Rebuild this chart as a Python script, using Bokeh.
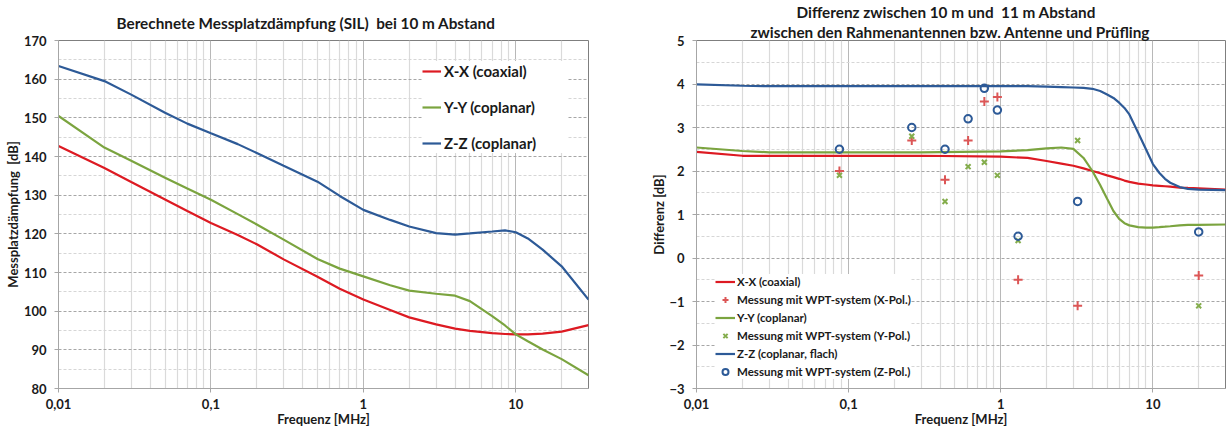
from bokeh.plotting import figure
from bokeh.layouts import row
from bokeh.models import (FixedTicker, Legend, LegendItem, Title,
                          CustomJSTickFormatter, Range1d)
from bokeh.embed import file_html
from bokeh.resources import INLINE

FONT = "Lato"
NB = "\u00a0"

# ---------------- left chart: Messplatzdämpfung (SIL) ----------------
freq_sil = [0.01, 0.02, 0.03, 0.05, 0.07, 0.1, 0.15, 0.2, 0.3, 0.5, 0.7, 1,
            1.5, 2, 3, 4, 5, 7, 8.5, 10, 12, 15, 20, 30]
sil_xx = [142.7, 137.0, 133.4, 128.9, 125.9, 122.8, 119.7, 117.3, 113.4, 108.9,
          105.8, 103.0, 100.3, 98.4, 96.6, 95.5, 94.9, 94.3, 94.1, 94.0, 94.0,
          94.2, 94.7, 96.4]
sil_yy = [150.5, 142.3, 138.9, 134.5, 131.7, 128.8, 125.1, 122.4, 118.5, 113.5,
          111.0, 109.0, 106.7, 105.3, 104.5, 104.0, 102.6, 98.7, 96.3, 94.0,
          92.2, 90.1, 87.6, 83.4]
sil_zz = [163.4, 159.5, 156.0, 151.3, 148.5, 146.0, 143.2, 140.9, 137.6, 133.5,
          129.8, 126.2, 123.6, 121.9, 120.2, 119.8, 120.1, 120.6, 120.9, 120.4,
          118.8, 115.9, 111.6, 103.0]
sil_labels = ["X-X (coaxial)", "Y-Y (coplanar)", "Z-Z (coplanar)"]

# ---------------- right chart: Differenz 10 m / 11 m ----------------
freq_diff = [0.01, 0.02, 0.03, 0.05, 0.1, 0.3, 1, 1.5, 2, 2.5, 3, 3.5, 4, 4.5,
             5, 5.5, 6, 6.5, 7, 8, 9, 10, 11, 12, 13, 15, 17, 20, 30]
diff_xx = [2.44, 2.35, 2.35, 2.35, 2.35, 2.35, 2.33, 2.30, 2.23, 2.17, 2.12,
           2.06, 2.00, 1.95, 1.90, 1.86, 1.82, 1.78, 1.75, 1.71, 1.69, 1.67,
           1.66, 1.65, 1.64, 1.62, 1.61, 1.60, 1.57]
diff_yy = [2.54, 2.46, 2.43, 2.43, 2.43, 2.43, 2.45, 2.48, 2.52, 2.54, 2.51,
           2.30, 2.00, 1.68, 1.36, 1.08, 0.90, 0.80, 0.75, 0.71, 0.70, 0.70,
           0.71, 0.72, 0.73, 0.75, 0.76, 0.76, 0.77]
diff_zz = [3.99, 3.96, 3.95, 3.95, 3.95, 3.95, 3.95, 3.95, 3.94, 3.93, 3.92,
           3.91, 3.89, 3.84, 3.76, 3.68, 3.57, 3.45, 3.30, 2.88, 2.50, 2.16,
           1.96, 1.82, 1.73, 1.63, 1.59, 1.57, 1.56]
meas_freq = [0.087, 0.26, 0.43, 0.61, 0.78, 0.95, 1.3, 3.2, 20]
meas_x = [2.0, 2.7, 1.8, 2.7, 3.6, 3.7, -0.5, -1.1, -0.4]
meas_y = [1.9, 2.8, 1.3, 2.1, 2.2, 1.9, 0.4, 2.7, -1.1]
meas_z = [2.5, 3.0, 2.5, 3.2, 3.9, 3.4, 0.5, 1.3, 0.6]
diff_labels = ["X-X (coaxial)", "Messung mit WPT-system (X-Pol.)",
               "Y-Y (coplanar)", "Messung mit WPT-system (Y-Pol.)",
               "Z-Z (coplanar, flach)", "Messung mit WPT-system (Z-Pol.)"]

x_ticks = [0.01, 0.1, 1, 10]
x_minor = [m * d for d in (0.01, 0.1, 1, 10) for m in range(2, 10) if m * d <= 30]

RED = "#DD1A22"
GREEN = "#7BA43F"
BLUE = "#2D5A97"
RED_M = "#DC5656"
GREEN_M = "#84AD4C"
BLUE_M = "#2D5A97"
TXT = "#1A1A1A"


def make_fig(width, bl, br, y0, y1, ymaj, ymin, ylabel, ylab_standoff):
    p = figure(width=width, height=429, x_axis_type="log",
               x_range=Range1d(0.01, 30), y_range=Range1d(y0, y1),
               output_backend="svg", toolbar_location=None,
               min_border_left=bl, min_border_right=br,
               min_border_top=40, min_border_bottom=39)
    p.background_fill_color = "white"
    p.border_fill_color = "white"
    p.outline_line_color = "#7F7F7F"
    p.outline_line_width = 1

    xt = FixedTicker(ticks=x_ticks, minor_ticks=x_minor)
    yt = FixedTicker(ticks=ymaj, minor_ticks=ymin)
    p.xaxis.ticker = xt
    p.yaxis.ticker = yt
    p.xgrid.ticker = xt
    p.ygrid.ticker = yt
    p.xaxis.formatter = CustomJSTickFormatter(
        code="return String(tick).replace('.', ',');")

    for ax in (p.xaxis[0], p.yaxis[0]):
        ax.axis_line_color = "#A6A6A6"
        ax.major_tick_line_color = "#A6A6A6"
        ax.major_tick_out = 4
        ax.major_tick_in = 0
        ax.minor_tick_out = 0
        ax.minor_tick_in = 0
        ax.major_label_text_font = FONT
        ax.major_label_text_font_size = "13px"
        ax.major_label_text_font_style = "bold"
        ax.major_label_text_color = TXT
        ax.axis_label_text_font = FONT
        ax.axis_label_text_font_size = "13px"
        ax.axis_label_text_font_style = "bold"
        ax.axis_label_text_color = TXT
    p.xaxis.major_label_standoff = 6
    p.xaxis.axis_label = "Frequenz [MHz]"
    p.xaxis.axis_label_standoff = -1
    p.yaxis.major_label_standoff = 8
    p.yaxis.axis_label = ylabel
    p.yaxis.axis_label_standoff = ylab_standoff

    p.xgrid.grid_line_color = "#B8B8B8"
    p.xgrid.grid_line_width = 1
    p.xgrid.minor_grid_line_color = "#DADADA"
    p.xgrid.minor_grid_line_width = 1.2
    p.ygrid.grid_line_color = "#A6A6A6"
    p.ygrid.grid_line_dash = "3 2"
    p.ygrid.minor_grid_line_color = "#D6D6D6"
    p.ygrid.minor_grid_line_dash = "3 2"
    return p


def style_title(t, text, offset, standoff):
    t.text = text
    t.align = "left"
    t.offset = offset
    t.standoff = standoff
    t.text_font = FONT
    t.text_font_size = "15.3px"
    t.text_font_style = "bold"
    t.text_color = TXT


# ---------------- left figure ----------------
p1 = make_fig(610, 58, 22, 80, 170, list(range(80, 171, 10)),
              list(range(85, 170, 10)), "Messplatzdämpfung " + NB + "[dB]", 0)
style_title(p1.title,
            "Berechnete Messplatzdämpfung (SIL) " + NB + "bei 10 m Abstand",
            58, 18)
r1 = p1.line(freq_sil, sil_xx, line_color=RED, line_width=2.2)
r2 = p1.line(freq_sil, sil_yy, line_color=GREEN, line_width=2.2)
r3 = p1.line(freq_sil, sil_zz, line_color=BLUE, line_width=2.2)
leg1 = Legend(items=[LegendItem(label=sil_labels[0], renderers=[r1]),
                     LegendItem(label=sil_labels[1], renderers=[r2]),
                     LegendItem(label=sil_labels[2], renderers=[r3])],
              location=(364, 235), padding=9, spacing=16, margin=0,
              glyph_width=19, glyph_height=20, label_height=20,
              label_width=124, label_standoff=3,
              border_line_color=None, background_fill_color="white",
              background_fill_alpha=1.0,
              label_text_font=FONT, label_text_font_size="15px",
              label_text_font_style="bold", label_text_color=TXT)
p1.add_layout(leg1)

# ---------------- right figure ----------------
p2 = make_fig(616, 86, 1, -3, 5, list(range(-3, 6)),
              [v + 0.5 for v in range(-3, 5)], "Differenz [dB]", -1)
t2 = Title()
style_title(t2, "zwischen den Rahmenantennen bzw. Antenne und Prüfling", 54, 0)
p2.add_layout(t2, "above")
style_title(p2.title, "Differenz zwischen 10 m und " + NB + "11 m Abstand",
            100, 0)
l1 = p2.line(freq_diff, diff_xx, line_color=RED, line_width=2.2)
l2 = p2.line(freq_diff, diff_yy, line_color=GREEN, line_width=2.2)
l3 = p2.line(freq_diff, diff_zz, line_color=BLUE, line_width=2.2)
m1 = p2.scatter(meas_freq, meas_x, marker="cross", size=9, line_width=2,
                line_color=RED_M)
m2 = p2.scatter(meas_freq, meas_y, marker="x", size=7, line_width=2,
                line_color=GREEN_M)
m3 = p2.scatter(meas_freq, meas_z, marker="circle", size=7.5, line_width=2,
                line_color=BLUE_M, fill_color=None)
leg2 = Legend(items=[LegendItem(label=diff_labels[0], renderers=[l1]),
                     LegendItem(label=diff_labels[1], renderers=[m1]),
                     LegendItem(label=diff_labels[2], renderers=[l2]),
                     LegendItem(label=diff_labels[3], renderers=[m2]),
                     LegendItem(label=diff_labels[4], renderers=[l3]),
                     LegendItem(label=diff_labels[5], renderers=[m3])],
              location=(19, 9), padding=2, spacing=3, margin=0,
              glyph_width=20, glyph_height=15, label_height=15,
              label_standoff=2,
              border_line_color=None, background_fill_color="white",
              background_fill_alpha=1.0,
              label_text_font=FONT, label_text_font_size="11.5px",
              label_text_font_style="bold", label_text_color=TXT)
p2.add_layout(leg2)

layout = row(p1, p2, spacing=0)
open("out.html", "w").write(file_html(layout, INLINE))
